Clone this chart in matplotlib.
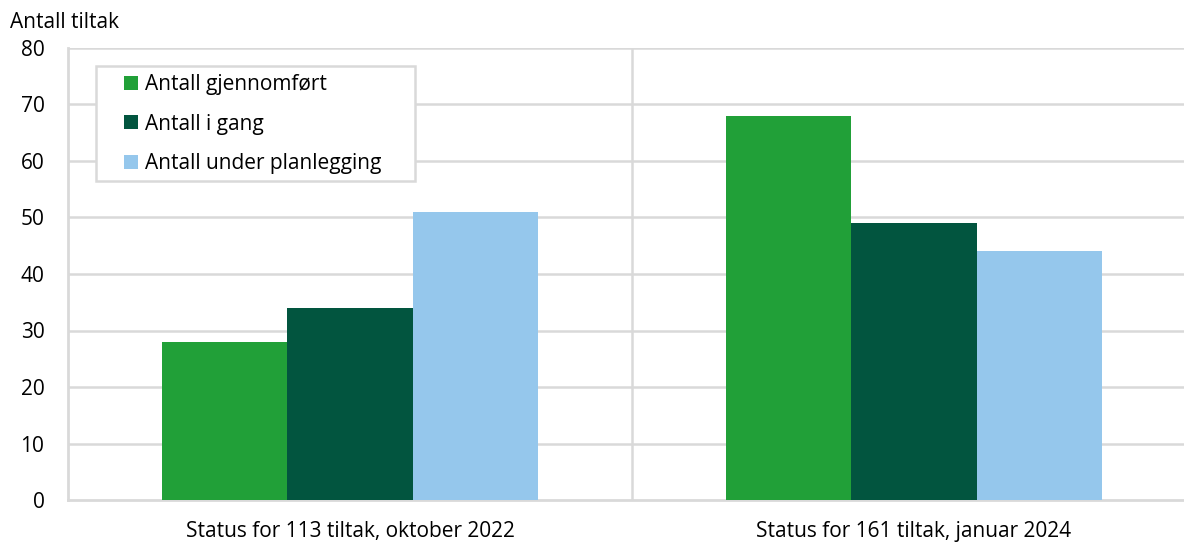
import numpy as np
import matplotlib.pyplot as plt
from matplotlib.patches import Rectangle

# ==============================
# DATA
# ==============================
categories = ["Status for 113 tiltak, oktober 2022", "Status for 161 tiltak, januar 2024"]
series_names = ["Antall gjennomført", "Antall i gang", "Antall under planlegging"]
gjennomfort = [28, 68]
i_gang = [34, 49]
planlegging = [51, 44]
colors = ["#21a038", "#02553f", "#95c7ec"]
yticks = [0, 10, 20, 30, 40, 50, 60, 70, 80]

plt.rcParams['font.family'] = ['Open Sans', 'DejaVu Sans']
grid_col = "#d9d9d9"
fs = 15
W, H = 1184, 542

fig = plt.figure(figsize=(W / 100, H / 100), dpi=100)
ax = fig.add_axes([68 / W, 42 / H, 1128 / W, 452 / H])

x = np.arange(len(categories)) + 0.5
w = 0.222
for i, (vals, name) in enumerate(zip([gjennomfort, i_gang, planlegging], series_names)):
    ax.bar(x + (i - 1) * w, vals, width=w, color=colors[i], label=name, zorder=3)

ax.set_xlim(0, 2)
ax.set_ylim(0, 80)
ax.set_yticks(yticks)
ax.set_xticks(x)
ax.set_xticklabels(categories)
ax.tick_params(axis='y', length=0, pad=17, labelsize=fs)
ax.tick_params(axis='x', length=0, pad=15, labelsize=fs)

# gridlines
for yv in yticks[1:]:
    ax.axhline(yv, color=grid_col, lw=1.8, zorder=1)
ax.axvline(1, color=grid_col, lw=1.8, zorder=1)

for s in ["top", "right"]:
    ax.spines[s].set_visible(False)
for s in ["left", "bottom"]:
    ax.spines[s].set_color(grid_col)
    ax.spines[s].set_linewidth(2)

fig.text(10 / W, 1 - 22 / H, "Antall tiltak", fontsize=fs, va='center', ha='left')

# legend box drawn separately (wider side padding than legend allows)
box = Rectangle((96 / W, 1 - 181 / H), (415 - 96) / W, (181 - 66) / H,
                transform=fig.transFigure, facecolor='white', edgecolor=grid_col,
                lw=1.8, zorder=4)
fig.patches.append(box)

leg = fig.legend(*ax.get_legend_handles_labels(), loc='upper left',
                 bbox_to_anchor=(124 / W, 1 - 74 / H),
                 fontsize=fs, frameon=False,
                 handlelength=0.65, handleheight=0.65, handletextpad=0.35,
                 labelspacing=0.9, borderpad=0, borderaxespad=0)
leg.set_zorder(5)

fig.savefig("out.png", dpi=100)
